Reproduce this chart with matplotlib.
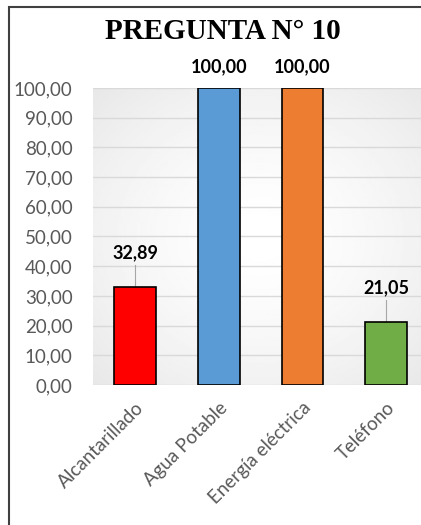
import numpy as np
import matplotlib
matplotlib.use("Agg")
import matplotlib.pyplot as plt
from matplotlib.patches import Rectangle

categorias = ["Alcantarillado", "Agua Potable", "Energía eléctrica", "Teléfono"]
valores = [32.89, 100.00, 100.00, 21.05]
colores = ["#FF0000", "#5B9BD5", "#ED7D31", "#70AD47"]
ticks_y = [0, 10, 20, 30, 40, 50, 60, 70, 80, 90, 100]

def coma(v):
    return f"{v:.2f}".replace(".", ",")

plt.rcParams["font.family"] = ["Lato", "DejaVu Sans"]

fig = plt.figure(figsize=(4.21, 5.25), dpi=100)
ax = fig.add_axes([0.222, 0.2667, 0.7945, 0.5657])

# fondo con degradado radial
yy, xx = np.mgrid[-1:1:200j, -1:1:200j]
r = np.clip(np.sqrt(xx**2 + yy**2) / 1.4, 0, 1)
fondo = 1.0 - 0.09 * r**1.5
ax.imshow(fondo, cmap="gray", vmin=0, vmax=1, extent=[0, 1, 0, 1],
          transform=ax.transAxes, aspect="auto", zorder=0)

x = np.arange(len(categorias))
ax.bar(x, valores, width=0.5, color=colores, edgecolor="black",
       linewidth=1.2, zorder=3)

ax.set_xlim(-0.5, len(categorias) - 0.5)
ax.set_ylim(0, 100)
ax.set_yticks(ticks_y)
ax.set_yticklabels([coma(t) for t in ticks_y], color="#595959", fontsize=13.5)
ax.set_xticks(x)
ax.set_xticklabels(categorias, rotation=45, ha="right",
                   rotation_mode="anchor", color="#595959", fontsize=13.5)
ax.tick_params(axis="y", length=0, pad=15)
ax.tick_params(axis="x", length=0, pad=10)
ax.grid(axis="y", color="#D9D9D9", linewidth=1, zorder=1)
for s in ax.spines.values():
    s.set_visible(False)

# etiquetas de datos
for xi, v in zip(x, valores):
    if v >= 90:
        ax.text(xi, v + 7, coma(v), ha="center", va="center",
                fontsize=13, fontweight="bold", color="black")
    else:
        ax.text(xi, v + 11.8, coma(v), ha="center", va="center",
                fontsize=13, fontweight="bold", color="black")
        ax.plot([xi, xi], [v + 0.5, v + 7.5], color="#A6A6A6", linewidth=0.8,
                zorder=2)

fig.text(0.53, 0.94, "PREGUNTA N° 10", ha="center", va="center",
         fontsize=21, fontweight="bold", family="Liberation Serif")

# marco del gráfico
fig.patches.append(Rectangle((9 / 421, -0.1), 1.2, 1 - 7 / 525 + 0.1,
                             transform=fig.transFigure, fill=False,
                             edgecolor="#404040", linewidth=1.5))

fig.savefig("out.png", dpi=100)
